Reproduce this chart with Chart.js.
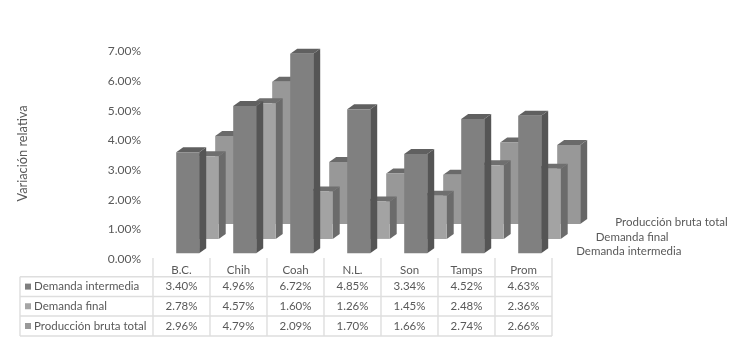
<!DOCTYPE html>
<html>
<head>
<meta charset="utf-8">
<title>Variación relativa</title>
<script src="https://cdn.jsdelivr.net/npm/chart.js@4"></script>
<style>
    html, body { margin: 0; padding: 0; background: #fff; }
    canvas { display: block; filter: blur(0.4px); }
</style>
</head>
<body>
<canvas id="chart" width="737" height="344"></canvas>
<script>
const categories = ['B.C.', 'Chih', 'Coah', 'N.L.', 'Son', 'Tamps', 'Prom'];
const seriesNames = ['Demanda intermedia', 'Demanda final', 'Producción bruta total'];
const demandaIntermedia = [3.40, 4.96, 6.72, 4.85, 3.34, 4.52, 4.63];
const demandaFinal = [2.78, 4.57, 1.60, 1.26, 1.45, 2.48, 2.36];
const produccionBruta = [2.96, 4.79, 2.09, 1.70, 1.66, 2.74, 2.66];

const FONT = 'Lato';
const TEXT = '#595959';
const PX_PER_UNIT = 29.7;

// Colores de cada cara: frente, lado, arriba
const faces = [
    { front: '#808080', side: '#555555', top: '#606060', key: '#7f7f7f' },
    { front: '#a3a3a3', side: '#6b6b6b', top: '#6f6f6f', key: '#a5a5a5' },
    { front: '#989898', side: '#666666', top: '#6a6a6a', key: '#999999' }
];
const DEPTH_X = 7;
const DEPTH_Y = 5;
const TABLE_SHIFT = 25.7;

// Dibuja el lado y la parte de arriba de cada barra antes de su frente
const bars3d = {
    id: 'bars3d',
    beforeDatasetDraw(chart, args) {
        const ctx = chart.ctx;
        const c = faces[args.index];
        args.meta.data.forEach(bar => {
            const { x, y, base, width } = bar.getProps(['x', 'y', 'base', 'width'], true);
            const r = x + width / 2;
            const l = x - width / 2;
            ctx.fillStyle = c.side;
            ctx.beginPath();
            ctx.moveTo(r, y);
            ctx.lineTo(r + DEPTH_X, y - DEPTH_Y);
            ctx.lineTo(r + DEPTH_X, base - DEPTH_Y);
            ctx.lineTo(r, base);
            ctx.closePath();
            ctx.fill();
            ctx.fillStyle = c.top;
            ctx.beginPath();
            ctx.moveTo(l, y);
            ctx.lineTo(l + DEPTH_X, y - DEPTH_Y);
            ctx.lineTo(r + DEPTH_X, y - DEPTH_Y);
            ctx.lineTo(r, y);
            ctx.closePath();
            ctx.fill();
        });
    }
};

// Tabla de datos, etiquetas de profundidad y título del eje
const dataTable = {
    id: 'dataTable',
    afterDraw(chart) {
        const ctx = chart.ctx;
        const xs = chart.scales.x;
        const step = xs.getPixelForTick(1) - xs.getPixelForTick(0);
        const colCenter = i => xs.getPixelForTick(i) - TABLE_SHIFT;
        const firstLine = colCenter(0) - step / 2;
        const lastLine = colCenter(categories.length - 1) + step / 2;
        const rowLines = [276.7, 296.5, 316, 336];
        const tableLeft = 20;
        const series = [demandaIntermedia, demandaFinal, produccionBruta];

        ctx.save();
        ctx.strokeStyle = '#dedede';
        ctx.lineWidth = 1.4;
        ctx.beginPath();
        rowLines.forEach(y => {
            ctx.moveTo(tableLeft, y);
            ctx.lineTo(lastLine, y);
        });
        ctx.moveTo(tableLeft, rowLines[0]);
        ctx.lineTo(tableLeft, rowLines[3]);
        categories.forEach((cat, i) => {
            ctx.moveTo(firstLine + i * step, 258);
            ctx.lineTo(firstLine + i * step, rowLines[3]);
        });
        ctx.moveTo(lastLine, 258);
        ctx.lineTo(lastLine, rowLines[3]);
        ctx.stroke();

        ctx.font = '11.5px ' + FONT;
        ctx.fillStyle = TEXT;
        ctx.textBaseline = 'middle';
        ctx.textAlign = 'center';
        categories.forEach((cat, i) => ctx.fillText(cat, colCenter(i), 270));
        series.forEach((values, r) => {
            const y = (rowLines[r] + rowLines[r + 1]) / 2;
            values.forEach((v, i) => ctx.fillText(v.toFixed(2) + '%', colCenter(i), y));
        });
        ctx.textAlign = 'left';
        seriesNames.forEach((name, r) => {
            const y = (rowLines[r] + rowLines[r + 1]) / 2;
            ctx.fillStyle = faces[r].key;
            ctx.fillRect(25, y - 3, 6, 6);
            ctx.fillStyle = TEXT;
            ctx.fillText(name, 34, y);
        });

        // Etiquetas del eje de profundidad
        seriesNames.forEach((name, r) => {
            const meta = chart.getDatasetMeta(r);
            const bar = meta.data[meta.data.length - 1];
            const { x, base, width } = bar.getProps(['x', 'base', 'width'], true);
            ctx.fillText(name, x + width / 2 + 35, base - 1.7);
        });

        ctx.font = '12.8px ' + FONT;
        ctx.translate(22.5, 153.5);
        ctx.rotate(-Math.PI / 2);
        ctx.textAlign = 'center';
        ctx.fillText('Variación relativa', 0, 0);
        ctx.restore();
    }
};

window.addEventListener('load', () => {
    const makeDataset = (label, data, r) => ({
        label: label,
        data: data,
        backgroundColor: faces[r].front,
        yAxisID: 'y' + r,
        clip: false,
        barPercentage: 1.18,
        categoryPercentage: 1.026
    });
    // Cada serie tiene su eje para subir su base según la profundidad
    const depthAxis = shift => ({
        display: false,
        min: -shift / PX_PER_UNIT,
        max: 7 - shift / PX_PER_UNIT
    });

    new Chart(document.getElementById('chart'), {
        type: 'bar',
        data: {
            labels: categories,
            datasets: [
                makeDataset(seriesNames[0], demandaIntermedia, 0),
                makeDataset(seriesNames[1], demandaFinal, 1),
                makeDataset(seriesNames[2], produccionBruta, 2)
            ]
        },
        options: {
            responsive: false,
            animation: false,
            layout: { padding: { top: 45.4, bottom: 90.7, left: 0, right: 159.3 } },
            plugins: {
                legend: { display: false },
                tooltip: { enabled: false }
            },
            scales: {
                x: { display: false },
                y0: {
                    position: 'left',
                    min: 0,
                    max: 7,
                    afterFit(scale) { scale.width = 178.7; },
                    grid: { display: false, drawTicks: false },
                    border: { display: false },
                    ticks: {
                        stepSize: 1,
                        padding: 37.7,
                        labelOffset: 6,
                        color: TEXT,
                        font: { family: FONT, size: 12 },
                        callback: v => v.toFixed(2) + '%'
                    }
                },
                y1: depthAxis(14.4),
                y2: depthAxis(29.3)
            }
        },
        plugins: [bars3d, dataTable]
    });
});
</script>
</body>
</html>
